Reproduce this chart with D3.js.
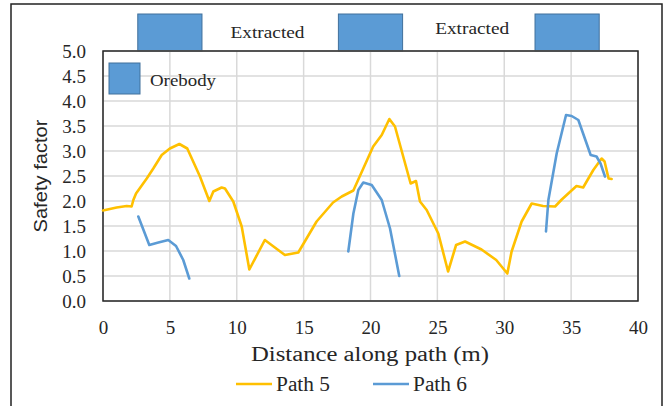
<!DOCTYPE html>
<html>
<head>
<meta charset="utf-8">
<script src="https://cdn.jsdelivr.net/npm/d3@7"></script>
<style>
  html, body { margin: 0; padding: 0; background: #fff; }
  svg { display: block; }
</style>
</head>
<body>
<svg id="chart" width="668" height="406"></svg>
<script>
// Safety factor along two paths through the orebody
const path5X = [0, 1.02, 1.77, 2.14, 2.27, 2.47, 3.27, 3.76, 4.39, 5.0, 5.71, 6.3, 7.25, 7.95, 8.25, 8.87, 9.12, 9.74, 10.37, 10.94, 12.1, 13.6, 14.6, 15.97, 17.2, 17.85, 18.72, 19.46, 20.2, 20.84, 21.41, 21.83, 23.0, 23.4, 23.7, 24.2, 25.07, 25.8, 26.4, 27.07, 28.3, 29.4, 30.23, 30.55, 31.3, 32.05, 32.9, 33.8, 34.3, 35.4, 35.9, 36.66, 37.28, 37.5, 37.8, 38.03];
const path5Y = [1.81, 1.87, 1.9, 1.89, 2.02, 2.15, 2.45, 2.65, 2.92, 3.05, 3.14, 3.05, 2.49, 2.0, 2.19, 2.27, 2.25, 1.99, 1.49, 0.63, 1.22, 0.92, 0.97, 1.59, 1.97, 2.09, 2.21, 2.65, 3.09, 3.32, 3.64, 3.49, 2.35, 2.4, 1.99, 1.82, 1.35, 0.59, 1.12, 1.19, 1.03, 0.82, 0.55, 0.99, 1.59, 1.95, 1.9, 1.89, 2.03, 2.3, 2.27, 2.62, 2.85, 2.79, 2.45, 2.44];

const path6X = [2.64, 3.46, 4.14, 4.88, 5.46, 6.0, 6.45, null, 18.34, 18.72, 19.09, 19.46, 20.09, 20.84, 21.46, 22.15, null, 33.12, 33.3, 33.92, 34.62, 35.04, 35.54, 36.46, 36.9, 37.2, 37.53];
const path6Y = [1.69, 1.12, 1.17, 1.22, 1.1, 0.82, 0.45, null, 0.99, 1.75, 2.22, 2.37, 2.32, 2.02, 1.45, 0.5, null, 1.39, 2.02, 2.95, 3.72, 3.7, 3.62, 2.92, 2.89, 2.75, 2.49];

// Orebody extents along the path (m)
const orebodyStart = [2.6, 17.6, 32.3];
const orebodyEnd = [7.4, 22.4, 37.1];
const extractedLabels = ["Extracted", "Extracted"];
const extractedCenter = [12.3, 27.6];

const xTicks = [0, 5, 10, 15, 20, 25, 30, 35, 40];
const yTicks = [0, 0.5, 1, 1.5, 2, 2.5, 3, 3.5, 4, 4.5, 5];

const seriesNames = ["Path 5", "Path 6"];
const seriesColors = ["#FFC000", "#5B9BD5"];

const svg = d3.select("#chart");
const serif = "'Liberation Serif', 'DejaVu Serif', serif";
const sans = "'Liberation Sans', 'Noto Sans', sans-serif";
const ink = "#262626";

const plotL = 103, plotR = 638, plotT = 51, plotB = 301;
const x = d3.scaleLinear().domain([0, 40]).range([plotL, plotR]);
const y = d3.scaleLinear().domain([0, 5]).range([plotB, plotT]);

// outer frame (open at the bottom)
svg.append("path")
  .attr("d", `M11,406 V4 H662 V406`)
  .attr("fill", "none").attr("stroke", "#222").attr("stroke-width", 1.5);

// orebody blocks above the plot
svg.append("g").selectAll("rect")
  .data(orebodyStart.map((s, i) => [s, orebodyEnd[i]]))
  .join("rect")
  .attr("x", d => x(d[0]))
  .attr("y", y(5) - 37)
  .attr("width", d => x(d[1]) - x(d[0]))
  .attr("height", 37)
  .attr("fill", "#5B9BD5")
  .attr("stroke", "#41719C").attr("stroke-width", 1);

svg.append("g").selectAll("text")
  .data(extractedLabels)
  .join("text")
  .attr("x", (d, i) => x(extractedCenter[i]))
  .attr("y", (d, i) => i === 0 ? 32 : 28)
  .attr("text-anchor", "middle")
  .attr("dominant-baseline", "central")
  .attr("font-family", serif).attr("font-size", 17)
  .attr("textLength", 74).attr("lengthAdjust", "spacingAndGlyphs")
  .attr("fill", ink)
  .text(d => d);

// grid
const grid = svg.append("g").attr("stroke", "#d9d9d9").attr("stroke-width", 1.5);
grid.selectAll("line.v").data(xTicks).join("line").attr("class", "v")
  .attr("x1", d => x(d)).attr("x2", d => x(d)).attr("y1", plotT).attr("y2", plotB);
grid.selectAll("line.h").data(yTicks).join("line").attr("class", "h")
  .attr("x1", plotL).attr("x2", plotR).attr("y1", d => y(d)).attr("y2", d => y(d));

// tick labels via d3 axes
const xAxis = svg.append("g").attr("transform", `translate(0,${plotB})`)
  .call(d3.axisBottom(x).tickValues(xTicks).tickSize(0).tickPadding(25).tickFormat(d3.format("d")));
const yAxis = svg.append("g").attr("transform", `translate(${plotL},0)`)
  .call(d3.axisLeft(y).tickValues(yTicks).tickSize(0).tickPadding(17).tickFormat(d3.format(".1f")));
[xAxis, yAxis].forEach(g => {
  g.select(".domain").remove();
  g.selectAll("text").attr("font-family", serif).attr("font-size", 19).attr("fill", ink);
});
xAxis.selectAll("text").attr("dy", null).attr("y", 26).attr("dominant-baseline", "central");
yAxis.selectAll("text").attr("dy", null).attr("dominant-baseline", "central");

// plot frame
svg.append("rect")
  .attr("x", plotL).attr("y", plotT).attr("width", plotR - plotL).attr("height", plotB - plotT)
  .attr("fill", "none").attr("stroke", ink).attr("stroke-width", 1.5);

// orebody legend
svg.append("rect").attr("x", 109).attr("y", 63).attr("width", 31).attr("height", 31)
  .attr("fill", "#5B9BD5").attr("stroke", "#41719C").attr("stroke-width", 1);
svg.append("text").attr("x", 150).attr("y", 80)
  .attr("dominant-baseline", "central")
  .attr("font-family", serif).attr("font-size", 17)
  .attr("textLength", 66).attr("lengthAdjust", "spacingAndGlyphs")
  .attr("fill", ink).text("Orebody");

// series
const line = d3.line()
  .defined(d => d[0] !== null)
  .x(d => x(d[0])).y(d => y(d[1]))
  .curve(d3.curveLinear);

const series = [
  path5X.map((v, i) => [v, path5Y[i]]),
  path6X.map((v, i) => [v, path6Y[i]])
];
svg.append("g").selectAll("path")
  .data(series)
  .join("path")
  .attr("d", line)
  .attr("fill", "none")
  .attr("stroke", (d, i) => seriesColors[i])
  .attr("stroke-width", 2.6)
  .attr("stroke-linejoin", "round")
  .attr("stroke-linecap", "round");

// axis titles
svg.append("text")
  .attr("transform", `translate(40,${(plotT + plotB) / 2}) rotate(-90)`)
  .attr("text-anchor", "middle").attr("dominant-baseline", "central")
  .attr("font-family", sans).attr("font-size", 19)
  .attr("textLength", 113).attr("lengthAdjust", "spacingAndGlyphs")
  .attr("fill", ink).text("Safety factor");

svg.append("text")
  .attr("x", 370).attr("y", 354)
  .attr("text-anchor", "middle").attr("dominant-baseline", "central")
  .attr("font-family", serif).attr("font-size", 20)
  .attr("textLength", 238).attr("lengthAdjust", "spacingAndGlyphs")
  .attr("fill", ink).text("Distance along path (m)");

// series legend
const legendX = [236, 373];
const lg = svg.append("g").selectAll("g").data(seriesNames).join("g")
  .attr("transform", (d, i) => `translate(${legendX[i]},384)`);
lg.append("line").attr("x1", 0).attr("x2", 36).attr("y1", 0).attr("y2", 0)
  .attr("stroke", (d, i) => seriesColors[i]).attr("stroke-width", 2.6);
lg.append("text").attr("x", 40).attr("y", 0)
  .attr("dominant-baseline", "central")
  .attr("font-family", serif).attr("font-size", 20)
  .attr("textLength", 54).attr("lengthAdjust", "spacingAndGlyphs")
  .attr("fill", ink).text(d => d);
</script>
</body>
</html>
